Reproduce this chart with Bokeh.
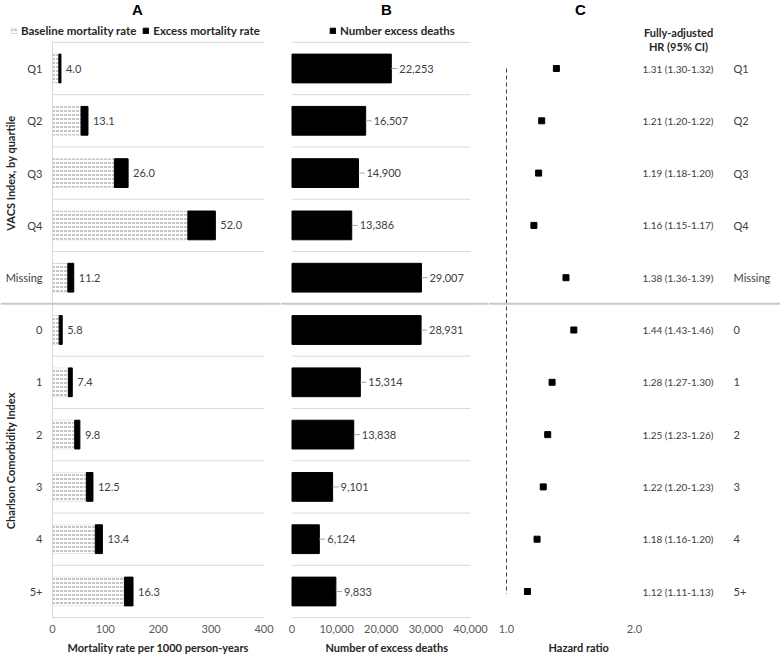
import math
from bokeh.plotting import figure
from bokeh.layouts import row
from bokeh.models import (Range1d, FixedTicker, NumeralTickFormatter, PrintfTickFormatter,
                          Span, Label, Legend, LegendItem, Title, LinearScale)
from bokeh.core.properties import value
from bokeh.embed import file_html
from bokeh.resources import INLINE

# ---------------- data ----------------
categories = ["Q1", "Q2", "Q3", "Q4", "Missing", "0", "1", "2", "3", "4", "5+"]
groups = ["VACS Index, by quartile", "Charlson Comorbidity Index"]
group_sizes = [5, 6]
baseline_rate = [12.0, 54.0, 117.0, 256.0, 29.0, 12.6, 30.0, 42.0, 64.0, 81.0, 136.0]
excess_rate = [4.0, 13.1, 26.0, 52.0, 11.2, 5.8, 7.4, 9.8, 12.5, 13.4, 16.3]
excess_deaths = [22253, 16507, 14900, 13386, 29007, 28931, 15314, 13838, 9101, 6124, 9833]
hr = [1.31, 1.21, 1.19, 1.16, 1.38, 1.44, 1.28, 1.25, 1.22, 1.18, 1.12]
hr_lo = [1.30, 1.20, 1.18, 1.15, 1.36, 1.43, 1.27, 1.23, 1.20, 1.16, 1.11]
hr_hi = [1.32, 1.22, 1.20, 1.17, 1.39, 1.46, 1.30, 1.26, 1.23, 1.20, 1.13]
rate_ticks = [0, 100, 200, 300, 400]
death_ticks = [0, 10000, 20000, 30000, 40000]
hr_ticks = [1.0, 2.0]

# ---------------- layout constants ----------------
FONT = "Lato"
TXT = "#404040"
TICK = "#595959"
GRID = "#d9d9d9"
HEAD = "#262626"
FRAME_H = 620
ROW_PX = 52.3
ROW0_PX = 68.0          # row-0 centre, px below frame top
rows = list(range(len(categories)))
y_start = (FRAME_H - ROW0_PX) / ROW_PX
y_end = -ROW0_PX / ROW_PX


def ry(px_from_top):
    return (px_from_top - ROW0_PX) / ROW_PX


def make_fig(width, x_range, x_axis_type="linear"):
    p = figure(frame_width=width, frame_height=FRAME_H, x_range=x_range,
               y_range=Range1d(y_start, y_end), x_axis_type=x_axis_type,
               y_axis_location=None, toolbar_location=None, output_backend="svg",
               min_border=0)
    p.outline_line_color = None
    p.outline_line_alpha = 0
    p.outline_line_width = 0
    p.background_fill_color = "white"
    p.border_fill_color = "white"
    p.xgrid.visible = False
    p.ygrid.visible = False
    ax = p.xaxis[0]
    ax.axis_line_color = None
    ax.major_tick_line_color = None
    ax.minor_tick_line_color = None
    ax.major_tick_out = 0
    ax.major_label_text_font = FONT
    ax.major_label_text_font_size = "11px"
    ax.major_label_text_color = TICK
    ax.major_label_standoff = 4
    sep = Span(location=4.5, dimension="width", line_color="#c8c8c8", line_width=2)
    p.add_layout(sep)
    return p


def bottom_title(p, text, offset):
    p.add_layout(Title(text=text, align="left", offset=offset, text_font=FONT,
                       text_font_size="11px", text_font_style="bold", text_color=HEAD,
                       standoff=6), "below")


def make_legend(items, x):
    return Legend(items=items, orientation="horizontal", location=(x, FRAME_H - 37),
                  padding=0, margin=0, spacing=6, label_standoff=4, glyph_width=7,
                  glyph_height=7, label_height=12, label_text_font=FONT,
                  label_text_font_size="11.5px", label_text_font_style="bold",
                  label_text_color=HEAD, border_line_color=None, background_fill_alpha=0)


bounds = [i - 0.5 for i in range(len(categories) + 1)]
group_centers = []
s = 0
for g in group_sizes:
    group_centers.append(s + (g - 1) / 2)
    s += g

txt_kw = dict(text_baseline="middle", text_font=value(FONT), text_font_size="11px",
              text_color=TXT)

# ---------------- panel A (page px 0..280) ----------------
WA, A_ZERO, A_SCALE = 280, 52.0, 0.52875
pA = make_fig(WA, Range1d(-A_ZERO / A_SCALE, (WA - A_ZERO) / A_SCALE))
pA.xaxis[0].ticker = FixedTicker(ticks=rate_ticks)
pA.segment(x0=rate_ticks[0], x1=rate_ticks[-1], y0=bounds, y1=bounds, line_color=GRID, line_width=1)
pA.segment(x0=[0], x1=[0], y0=[bounds[0]], y1=[bounds[-1]], line_color=GRID, line_width=1)
totals = [b + e for b, e in zip(baseline_rate, excess_rate)]
r_base = pA.hbar(y=rows, left=0, right=baseline_rate, height=0.55, fill_color="white",
                 line_color="#d0d0d0", line_width=0.5, hatch_pattern="horizontal_dash",
                 hatch_color="#8c8c8c", hatch_scale=4, hatch_weight=1)
r_exc = pA.hbar(y=rows, left=baseline_rate, right=totals, height=0.55,
                fill_color="black", line_color="black")
pA.text(x=totals, y=rows, text=[f"{v:.1f}" for v in excess_rate], x_offset=5,
        text_align="left", **txt_kw)
pA.text(x=[0] * len(rows), y=rows, text=categories, x_offset=-10, text_align="right", **txt_kw)
pA.text(x=[(10 - A_ZERO) / A_SCALE] * 2, y=group_centers, text=groups, angle=math.pi / 2,
        text_align="center", text_baseline="middle", text_font=value(FONT),
        text_font_size="11px", text_font_style="bold", text_color=HEAD)
pA.add_layout(Label(x=(137 - A_ZERO) / A_SCALE, y=y_end, text="A", text_align="center",
                    text_baseline="top", text_font="Liberation Sans", text_font_size="15px",
                    text_font_style="bold", text_color="black"))
pA.add_layout(make_legend([LegendItem(label="Baseline mortality rate", renderers=[r_base]),
                           LegendItem(label="Excess mortality rate", renderers=[r_exc])], 10))
bottom_title(pA, "Mortality rate per 1000 person-years", 67)

# ---------------- panel B (page px 280..488) ----------------
B_LEFT = 280
WB, B_SCALE = 488 - B_LEFT, 0.0044625
B_ZERO = 291.5 - B_LEFT
pB = make_fig(WB, Range1d(-B_ZERO / B_SCALE, (WB - B_ZERO) / B_SCALE))
pB.xaxis[0].ticker = FixedTicker(ticks=death_ticks)
pB.xaxis[0].formatter = NumeralTickFormatter(format="0,0")
pB.segment(x0=death_ticks[0], x1=death_ticks[-1], y0=bounds, y1=bounds, line_color=GRID, line_width=1)
r_d = pB.hbar(y=rows, left=0, right=excess_deaths, height=0.55, fill_color="black", line_color="black")
pB.ray(x=excess_deaths, y=rows, length=6, angle=0, length_units="screen",
       line_color="#a6a6a6", line_width=1)
pB.text(x=excess_deaths, y=rows, text=[f"{v:,}" for v in excess_deaths], x_offset=8,
        text_align="left", **txt_kw)
pB.add_layout(Label(x=(386 - B_LEFT - B_ZERO) / B_SCALE, y=y_end, text="B", text_align="center",
                    text_baseline="top", text_font="Liberation Sans", text_font_size="15px",
                    text_font_style="bold", text_color="black"))
pB.add_layout(make_legend([LegendItem(label="Number excess deaths", renderers=[r_d])], 329 - B_LEFT))
bottom_title(pB, "Number of excess deaths", 325 - B_LEFT)

# ---------------- panel C (page px 488..780) ----------------
C_LEFT = 488
WC, C_DEC = 780 - C_LEFT, 425.2
C_ONE = 506 - C_LEFT
pC = make_fig(WC, Range1d(10 ** (-C_ONE / C_DEC), 10 ** ((WC - C_ONE) / C_DEC)), x_axis_type="log")
pC.xaxis[0].ticker = FixedTicker(ticks=hr_ticks)
pC.xaxis[0].formatter = PrintfTickFormatter(format="%.1f")
pC.extra_x_ranges = {"tbl": Range1d(C_LEFT, 780)}
pC.extra_x_scales = {"tbl": LinearScale()}
pC.segment(x0=[hr_ticks[0]], x1=[hr_ticks[0]], y0=[rows[0]], y1=[rows[-1] + 0.05],
           line_color="#404040", line_width=1, line_dash="4 3")
pC.segment(x0=hr_lo, x1=hr_hi, y0=rows, y1=rows, line_color="black", line_width=1)
pC.scatter(x=hr, y=rows, marker="square", size=6, fill_color="black", line_color="black")
hr_text = [f"{h:.2f} ({l:.2f}-{u:.2f})" for h, l, u in zip(hr, hr_lo, hr_hi)]
pC.text(x=[642] * len(rows), y=rows, text=hr_text, x_range_name="tbl",
        text_align="left", text_baseline="middle", text_font=value(FONT),
        text_font_size="10px", text_color=TXT)
pC.text(x=[733] * len(rows), y=rows, text=categories, x_range_name="tbl",
        text_align="left", **txt_kw)
pC.text(x=[678, 678], y=[ry(32), ry(46)], text=["Fully-adjusted", "HR (95% CI)"],
        x_range_name="tbl", text_align="center", text_baseline="middle", text_font=value(FONT),
        text_font_size="11px", text_font_style="bold", text_color=HEAD)
pC.add_layout(Label(x=580, y=y_end, x_range_name="tbl", text="C", text_align="center",
                    text_baseline="top", text_font="Liberation Sans", text_font_size="15px",
                    text_font_style="bold", text_color="black"))
bottom_title(pC, "Hazard ratio", 548 - C_LEFT)

layout = row(pA, pB, pC)
open("out.html", "w").write(file_html(layout, INLINE))
